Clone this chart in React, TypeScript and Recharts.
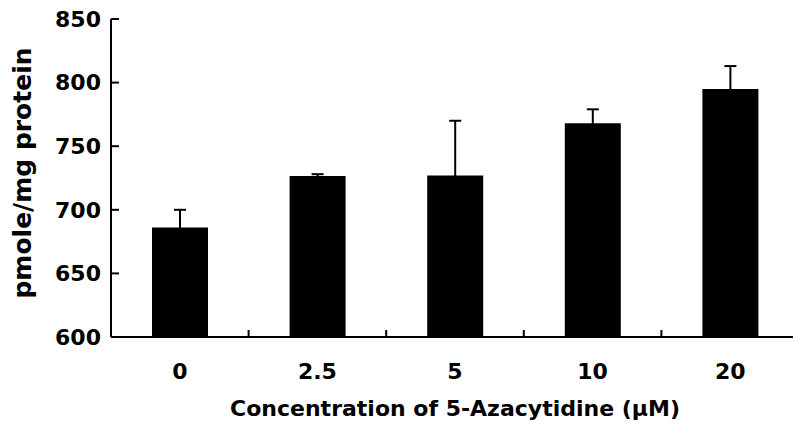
import React from 'react';
import { BarChart, Bar, XAxis, YAxis, ErrorBar } from 'recharts';

const categories = ['0', '2.5', '5', '10', '20'];
const means = [686, 726.5, 727, 768, 795];
const errors = [14, 1.5, 43, 11, 18];
const yTicks = [600, 650, 700, 750, 800, 850];
const xTitle = 'Concentration of 5-Azacytidine (\u00B5M)';
const yTitle = 'pmole/mg protein';

const data = categories.map((c, i) => ({ conc: c, value: means[i], err: errors[i] }));

const FONT = '"DejaVu Sans", sans-serif';
const X_TICK_MARGIN = 26;

const XTick = (props: any) => {
  const { x, y, payload, index, width, visibleTicksCount } = props;
  const half = payload && payload.offset ? payload.offset : width / visibleTicksCount / 2;
  const axisY = y - X_TICK_MARGIN;
  return (
    <g>
      {index > 0 && (
        <line x1={x - half} x2={x - half} y1={axisY} y2={axisY - 7} stroke="#000" strokeWidth={2} />
      )}
      <text
        x={x}
        y={y}
        dy={16}
        textAnchor="middle"
        fontFamily={FONT}
        fontWeight="bold"
        fontSize={22}
        fill="#000"
      >
        {payload.value}
      </text>
    </g>
  );
};

const YTitle = (props: any) => {
  const vb = props.viewBox || {};
  const cx = 22;
  const cy = (vb.y ?? 19) + (vb.height ?? 318) / 2 - 5;
  return (
    <text
      x={cx}
      y={cy}
      transform={`rotate(-90, ${cx}, ${cy})`}
      textAnchor="middle"
      dominantBaseline="central"
      fontFamily={FONT}
      fontWeight="bold"
      fontSize={25}
      fill="#000"
    >
      {yTitle}
    </text>
  );
};

export default function App() {
  return (
    <div
      style={{
        position: 'absolute',
        left: 0,
        top: 0,
        width: 793,
        height: 425,
        overflow: 'hidden',
        background: '#fff',
      }}
    >
      <BarChart
        width={800}
        height={425}
        data={data}
        margin={{ top: 19, right: 1, bottom: 0, left: 0 }}
      >
        <XAxis
          dataKey="conc"
          height={88}
          tickLine={false}
          tickSize={0}
          tickMargin={X_TICK_MARGIN}
          axisLine={{ stroke: '#000', strokeWidth: 2 }}
          tick={<XTick />}
          interval={0}
          label={{
            value: xTitle,
            position: 'insideBottom',
            offset: 9,
            fontFamily: FONT,
            fontWeight: 'bold',
            fontSize: 22,
            fill: '#000',
          }}
        />
        <YAxis
          width={111}
          domain={[600, 850]}
          ticks={yTicks}
          allowDataOverflow
          tickSize={-8}
          tickMargin={18}
          axisLine={{ stroke: '#000', strokeWidth: 2 }}
          tickLine={{ stroke: '#000', strokeWidth: 2 }}
          tick={{ fontFamily: FONT, fontWeight: 'bold', fontSize: 22, fill: '#000' }}
          label={<YTitle />}
        />
        <Bar dataKey="value" fill="#000" barSize={56} isAnimationActive={false}>
          <ErrorBar dataKey="err" width={6} stroke="#000" strokeWidth={2} direction="y" />
        </Bar>
      </BarChart>
    </div>
  );
}
